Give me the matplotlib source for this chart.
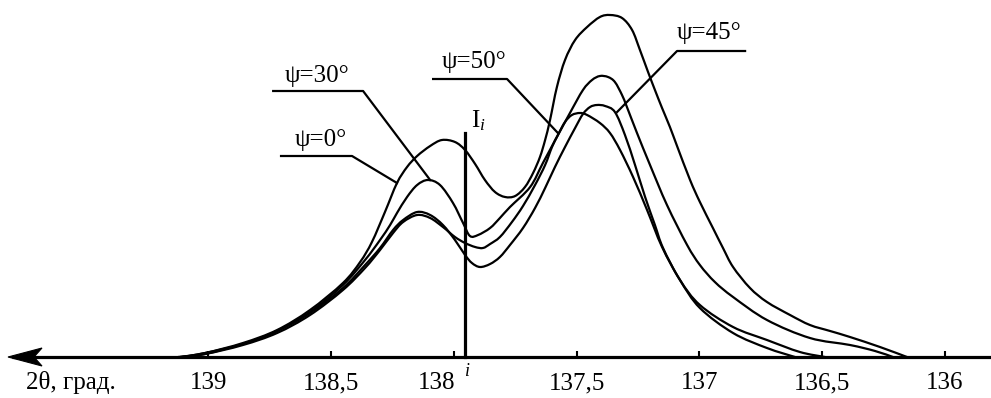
import matplotlib
matplotlib.use("Agg")
import matplotlib.pyplot as plt
from matplotlib.transforms import ScaledTranslation, blended_transform_factory
from matplotlib.path import Path
from matplotlib.patches import PathPatch, Polygon

plt.rcParams['font.family'] = ['Liberation Serif', 'DejaVu Serif']
plt.rcParams['mathtext.fontset'] = 'custom'
plt.rcParams['mathtext.rm'] = 'Liberation Serif'
plt.rcParams['mathtext.it'] = 'Liberation Serif:italic'

# ---------------- data (2θ in degrees, intensity in arbitrary units) ----------------
tick_values = [139, 138.5, 138, 137.5, 137, 136.5, 136]
tick_labels = ["139", "138,5", "138", "137,5", "137", "136,5", "136"]
x_label = "2θ, град."
i_position = 137.954

psi0_x = [139.114, 139.012, 138.858, 138.719, 138.585, 138.451, 138.381, 138.333, 138.280, 138.231,
          138.190, 138.149, 138.096, 138.048, 137.995, 137.954, 137.913, 137.873, 137.832, 137.791,
          137.750, 137.710, 137.677, 137.649, 137.628, 137.608, 137.580, 137.547, 137.506, 137.457,
          137.405, 137.364, 137.315, 137.274, 137.242, 137.209, 137.181, 137.152, 137.120, 137.091,
          137.038, 136.998, 136.945, 136.904, 136.863, 136.794, 136.725, 136.631, 136.550, 136.468,
          136.387, 136.265, 136.155]
psi0_y = [0, 4, 14, 27, 47, 74, 95, 115, 145, 174,
          190, 201, 211, 217, 215, 207, 193, 177, 165, 160,
          161, 170, 184, 200, 217, 237, 270, 297, 317, 330,
          340, 342, 339, 327, 307, 285, 267, 249, 230, 211,
          177, 155, 129, 109, 90, 69, 55, 42, 32, 26,
          20, 10, 0]

psi30_x = [139.094, 139.012, 138.858, 138.719, 138.585, 138.451, 138.361, 138.300, 138.259, 138.231,
           138.190, 138.149, 138.105, 138.056, 138.003, 137.962, 137.934, 137.901, 137.852, 137.812,
           137.771, 137.689, 137.637, 137.580, 137.527, 137.474, 137.437, 137.405, 137.372, 137.344,
           137.315, 137.295, 137.254, 137.201, 137.132, 137.050, 136.998, 136.937, 136.863, 136.725,
           136.550, 136.387, 136.285, 136.212]
psi30_y = [0, 3, 13, 26, 45, 72, 97, 117, 132, 144,
           160, 172, 177, 172, 154, 134, 121, 122, 129, 139,
           150, 170, 194, 220, 244, 267, 277, 281, 280, 275,
           262, 250, 224, 192, 152, 112, 92, 75, 60, 37,
           19, 12, 6, 0]

psi45_x = [139.106, 139.012, 138.858, 138.719, 138.585, 138.451, 138.361, 138.300, 138.247, 138.206,
           138.149, 138.096, 138.044, 137.995, 137.954, 137.926, 137.893, 137.852, 137.812, 137.771,
           137.718, 137.669, 137.628, 137.588, 137.547, 137.506, 137.474, 137.445, 137.417,
           137.384, 137.344, 137.303, 137.262, 137.221, 137.181, 137.148, 137.079, 136.998, 136.863,
           136.725, 136.591, 136.489]
psi45_y = [0, 4, 13, 26, 44, 69, 92, 109, 127, 137,
           145, 142, 132, 117, 102, 94, 90, 93, 100, 112,
           129, 149, 169, 190, 210, 229, 243, 250, 252,
           251, 245, 222, 192, 160, 132, 109, 77, 52, 30,
           17, 5, 0]

psi50_x = [139.122, 139.012, 138.858, 138.719, 138.585, 138.451, 138.361, 138.300, 138.247, 138.206,
           138.149, 138.096, 138.044, 137.995, 137.954, 137.913, 137.881, 137.852, 137.812, 137.763,
           137.718, 137.669, 137.628, 137.600, 137.576, 137.547, 137.519, 137.486, 137.457, 137.405,
           137.364, 137.323, 137.270, 137.213, 137.152, 137.079, 136.998, 136.863, 136.725, 136.611]
psi50_y = [0, 3, 12, 24, 42, 67, 89, 107, 124, 135,
           142, 139, 130, 120, 114, 110, 109, 113, 120, 135,
           151, 172, 192, 210, 222, 235, 242, 244, 242, 234,
           224, 207, 180, 147, 110, 77, 49, 24, 9, 0]

series = [(psi0_x, psi0_y), (psi30_x, psi30_y), (psi45_x, psi45_y), (psi50_x, psi50_y)]

# label text, text anchor (x, baseline y), leader polyline
labels = [
    ("ψ=30°", (138.556, 275), [(138.735, 266), (138.369, 266), (138.096, 177)]),
    ("ψ=0°",  (138.540, 211), [(138.703, 201), (138.414, 201), (138.231, 174)]),
    ("ψ=50°", (137.917, 289), [(138.084, 278), (137.783, 278), (137.576, 224)]),
    ("ψ=45°", (136.961, 318), [(136.814, 306), (137.091, 306), (137.335, 245)]),
]


def smooth_path(xs, ys):
    """Bezier path through the measured points (Catmull-Rom tangents)."""
    pts = list(zip(xs, ys))
    n = len(pts)
    verts = [pts[0]]
    codes = [Path.MOVETO]
    for i in range(n - 1):
        p0 = pts[i - 1] if i > 0 else pts[i]
        p1 = pts[i]
        p2 = pts[i + 1]
        p3 = pts[i + 2] if i + 2 < n else pts[i + 1]
        c1 = (p1[0] + (p2[0] - p0[0]) / 6.0, p1[1] + (p2[1] - p0[1]) / 6.0)
        c2 = (p2[0] - (p3[0] - p1[0]) / 6.0, p2[1] - (p3[1] - p1[1]) / 6.0)
        verts += [c1, c2, p2]
        codes += [Path.CURVE4, Path.CURVE4, Path.CURVE4]
    return Path(verts, codes)


# ---------------- figure ----------------
fig = plt.figure(figsize=(9.91, 3.98), dpi=100)
ax = fig.add_axes([0, 0, 1, 1])
ax.set_xlim(139.847, 135.813)
ax.set_ylim(-41, 357)
for s in ['top', 'right', 'left', 'bottom']:
    ax.spines[s].set_visible(False)
ax.spines['bottom'].set_position(('data', 0))
ax.set_yticks([])

FS = 18
ax.set_xticks(tick_values)
ax.set_xticklabels(tick_labels, fontsize=FS)
ax.tick_params(axis='x', direction='in', length=4, width=1.5, pad=11, colors='black')
for lab in ax.get_xticklabels():
    if lab.get_text() == "138":
        lab.set_transform(lab.get_transform() + ScaledTranslation(-17 / 100, 0, fig.dpi_scale_trans))

# axis line with arrow pointing left
bt = blended_transform_factory(ax.transAxes, ax.transData)
W = 991.0
ax.plot([12 / W, 1.0], [0, 0], color='black', lw=2.3, transform=bt, solid_capstyle='butt')
ax.add_patch(Polygon([(8 / W, 0), (42 / W, 9), (34 / W, 0), (42 / W, -9)], closed=True,
                     facecolor='black', edgecolor='black', lw=0.8, transform=bt))

for xs, ys in series:
    ax.add_patch(PathPatch(smooth_path(xs, ys), facecolor='none', edgecolor='black',
                           lw=1.6, joinstyle='round', capstyle='round'))

# vertical line I_i
ax.plot([i_position, i_position], [0, 224], color='black', lw=2.3)
ax.text(137.901, 230, r'$\mathrm{I}_i$', fontsize=FS, ha='center', va='baseline')
ax.text(137.946, -15, 'i', fontsize=13, style='italic', ha='center', va='center')

for txt, (tx, ty), pts in labels:
    ax.text(tx, ty, txt, fontsize=FS, ha='center', va='baseline')
    ax.plot([p[0] for p in pts], [p[1] for p in pts], color='black', lw=1.6)

ax.text(139.56, -26, x_label, fontsize=FS, ha='center', va='center')

fig.savefig('out.png', dpi=100)
